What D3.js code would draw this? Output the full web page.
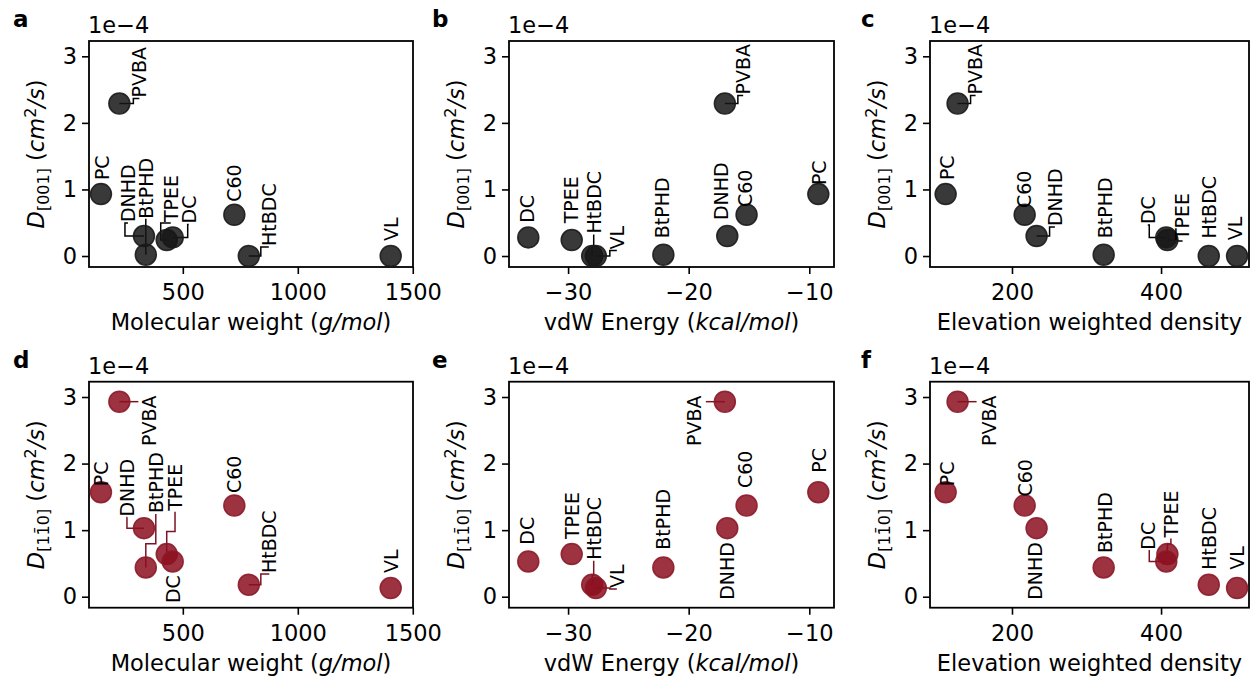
<!DOCTYPE html>
<html>
<head>
<meta charset="utf-8">
<script src="https://cdn.jsdelivr.net/npm/d3@7/dist/d3.min.js"></script>
<style>
  html, body { margin: 0; padding: 0; background: #fff; }
  svg { display: block; font-family: "DejaVu Sans", sans-serif; }
</style>
</head>
<body>
<svg id="chart" width="1254" height="681"></svg>
<script>
// ---------------- data ----------------
const names       = ["PC", "PVBA", "DNHD", "BtPHD", "TPEE", "DC", "C60", "HtBDC", "VL"];
const molWeight   = [144, 224, 331, 339, 430, 456, 724, 787, 1404];
const vdwEnergy   = [-9.25, -17.0, -16.8, -22.1, -29.7, -33.3, -15.2, -28.0, -27.7];
const elevDensity = [111, 127, 233, 323, 408.5, 407, 217, 464, 502];
const D001        = [0.93, 2.29, 0.30, 0.02, 0.24, 0.28, 0.62, 0.00, 0.00];   // x 1e-4 cm^2/s
const D110        = [1.57, 2.93, 1.03, 0.44, 0.64, 0.53, 1.37, 0.18, 0.13];   // x 1e-4 cm^2/s

const ticksMW   = [500, 1000, 1500];
const ticksVdw  = [-30, -20, -10];
const ticksElev = [200, 400];
const ticksD    = [0, 1, 2, 3];
const offsetText = "1e\u22124";

// ---------------- label layout (offsets in px from point; connector mode) ----------------
// [dx, dy(bottom of rotated label), mode, param]
const layoutA = [[1.5,-14,null,0],[20,-6,'h',14],[-16,-14,'h',-19],[0,-36,'v',-36],[4,-18,'h',-6],[16,-14,'h',15],[0,-13,null,0],[20,-10,'h',12],[0.7,-15,null,0]];
const layoutB = [[1,-9,null,0],[18.3,-9,'h',13],[-6.5,-16,null,0],[-1,-16.4,null,0],[-1,-16.7,null,0],[-1,-14.6,null,0],[-1,-7.7,null,0],[1.5,-22.4,'v',-10],[21,-6.4,'h',14]];
const layoutC = [[1.8,-14,null,0],[18,-9,'h',13],[18.3,-10,'h',13],[1,-16.4,null,0],[15.2,0,'h',10],[-18.5,-13.3,'h',-17],[-1,-6.7,null,0],[0,-17.4,null,0],[-1.5,-15.7,null,0]];
const layoutD = [[0,-6,null,0],[30,44.4,'d',19],[-16.5,-11.6,'h',-17],[10,-54.4,'v',-23.7],[8.3,-43.3,'v',-22.6],[0,41.6,null,0],[0,-12.4,null,0],[20.5,-11.7,'h',12],[0.8,-15,null,0]];
const layoutE = [[1,-19.4,null,0],[-30.8,44.4,'d',-19],[0,71.7,null,0],[0,-17.7,null,0],[0,-15,null,0],[-1,-16.7,null,0],[-1,-17.4,null,0],[1.5,-25,'v',-10],[21,0,'h',14]];
const layoutF = [[1.8,-6,null,0],[31.5,44.4,'d',19],[-1,71.7,null,0],[1,-14.4,null,0],[3.5,-16.6,'v',-10],[-17.7,-11.7,'h',-17],[0.8,-9,null,0],[0,-15,null,0],[0,-18.3,null,0]];

// ---------------- figure geometry ----------------
const colLeft  = [89, 509, 930];
const colRight = [413, 834, 1249];
const rowTop   = [41, 381.7];
const rowBot   = [267, 607.7];
const yDomain  = [-0.165, 3.23];

const dark = { fill: "#161616", stroke: "#1a1a1a", conn: "#000000" };
const red  = { fill: "#8c0f20", stroke: "#8b1a28", conn: "#7a1424" };

const xMW   = { values: molWeight,   domain: [92, 1501],     ticks: ticksMW,   label: [["Molecular weight (", false], ["g/mol", true], [")", false]] };
const xVdw  = { values: vdwEnergy,   domain: [-34.9, -7.95], ticks: ticksVdw,  label: [["vdW Energy (", false], ["kcal/mol", true], [")", false]] };
const xElev = { values: elevDensity, domain: [90, 518],      ticks: ticksElev, label: [["Elevation weighted density", false]] };

const panels = [
  { id: "a", row: 0, col: 0, x: xMW,   y: D001, sub: "[001]",        style: dark, layout: layoutA },
  { id: "b", row: 0, col: 1, x: xVdw,  y: D001, sub: "[001]",        style: dark, layout: layoutB },
  { id: "c", row: 0, col: 2, x: xElev, y: D001, sub: "[001]",        style: dark, layout: layoutC },
  { id: "d", row: 1, col: 0, x: xMW,   y: D110, sub: "[11\u03040]",  style: red,  layout: layoutD },
  { id: "e", row: 1, col: 1, x: xVdw,  y: D110, sub: "[11\u03040]",  style: red,  layout: layoutE },
  { id: "f", row: 1, col: 2, x: xElev, y: D110, sub: "[11\u03040]",  style: red,  layout: layoutF },
];
const letterX = [13, 432, 861];

const svg = d3.select("#chart");
const fmt = v => String(v).replace("-", "\u2212");
const R = 10.5;
const tickFont = 22.5, annFont = 19;

panels.forEach(p => {
  const L = colLeft[p.col], Rt = colRight[p.col], T = rowTop[p.row], B = rowBot[p.row];
  const x = d3.scaleLinear().domain(p.x.domain).range([L, Rt]);
  const y = d3.scaleLinear().domain(yDomain).range([B, T]);
  const g = svg.append("g");

  // axes
  const xAxis = d3.axisBottom(x).tickValues(p.x.ticks).tickSize(7).tickPadding(4).tickFormat(fmt);
  const yAxis = d3.axisLeft(y).tickValues(ticksD).tickSize(7).tickPadding(5).tickFormat(fmt);
  const gx = g.append("g").attr("transform", `translate(0,${B})`).call(xAxis);
  const gy = g.append("g").attr("transform", `translate(${L},0)`).call(yAxis);
  [gx, gy].forEach(a => {
    a.select(".domain").remove();
    a.selectAll(".tick line").attr("stroke", "#000").attr("stroke-width", 1.6);
    a.selectAll(".tick text").attr("font-size", tickFont).attr("fill", "#000").attr("font-family", "DejaVu Sans");
  });
  gx.selectAll(".tick text").attr("dy", "0.97em");

  // frame
  g.append("rect").attr("x", L).attr("y", T).attr("width", Rt - L).attr("height", B - T)
    .attr("fill", "none").attr("stroke", "#000").attr("stroke-width", 1.8);

  // offset text
  g.append("text").attr("x", L - 1).attr("y", T - 8).attr("font-size", tickFont).text(offsetText);

  // panel letter
  g.append("text").attr("x", letterX[p.col]).attr("y", T - 14).attr("font-size", 23)
    .attr("font-weight", "bold").text(p.id);

  // x label
  const xl = g.append("text").attr("x", (L + Rt) / 2).attr("y", B + 63).attr("text-anchor", "middle").attr("font-size", tickFont);
  p.x.label.forEach(([t, it]) => xl.append("tspan").attr("font-style", it ? "italic" : "normal").text(t));

  // y label
  const yl = g.append("text").attr("transform", `translate(${L - 45},${(T + B) / 2}) rotate(-90)`)
    .attr("text-anchor", "middle").attr("font-size", tickFont);
  yl.append("tspan").attr("font-style", "italic").text("D");
  yl.append("tspan").attr("font-size", 16).attr("dy", 5).text(p.sub);
  yl.append("tspan").attr("dy", -5).text(" (");
  yl.append("tspan").attr("font-style", "italic").text("cm");
  yl.append("tspan").attr("font-size", 16).attr("dy", -8).text("2");
  yl.append("tspan").attr("font-style", "italic").attr("dy", 8).text("/s");
  yl.append("tspan").text(")");

  const pts = names.map((n, i) => ({ n, px: x(p.x.values[i]), py: y(p.y[i]), lay: p.layout[i] }));

  // connectors
  pts.forEach(d => {
    const [dx, dy, mode, c] = d.lay;
    if (!mode) return;
    const P = d3.path();
    P.moveTo(d.px, d.py);
    if (mode === "h") {
      P.lineTo(d.px + c, d.py);
      P.lineTo(d.px + c, d.py + dy + 1);
      P.lineTo(d.px + dx, d.py + dy + 1);
    } else if (mode === "v") {
      P.lineTo(d.px, d.py + c);
      P.lineTo(d.px + dx, d.py + c);
      P.lineTo(d.px + dx, d.py + dy + 1);
    } else if (mode === "d") {
      P.lineTo(d.px + c, d.py);
    }
    g.append("path").attr("d", P.toString()).attr("fill", "none")
      .attr("stroke", p.style.conn).attr("stroke-width", 1.5);
  });

  // markers
  g.selectAll("circle.pt").data(pts).join("circle").attr("class", "pt")
    .attr("cx", d => d.px).attr("cy", d => d.py).attr("r", R)
    .attr("fill", p.style.fill).attr("fill-opacity", 0.85)
    .attr("stroke", p.style.stroke).attr("stroke-width", 1.5).attr("stroke-opacity", 0.9);

  // labels
  g.selectAll("text.lab").data(pts).join("text").attr("class", "lab")
    .attr("transform", d => `translate(${d.px + d.lay[0]},${d.py + d.lay[1]}) rotate(-90)`)
    .attr("dy", "0.36em").attr("font-size", annFont).attr("fill", "#000")
    .text(d => d.n);
});
</script>
</body>
</html>
